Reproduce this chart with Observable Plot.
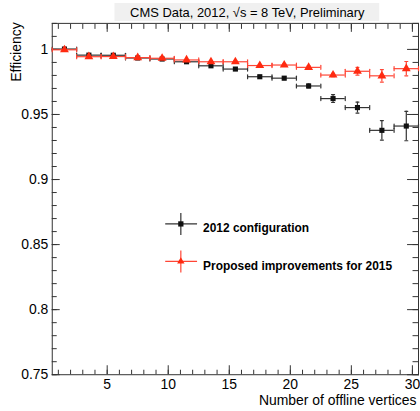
<!DOCTYPE html>
<html><head><meta charset="utf-8">
<script src="https://cdn.jsdelivr.net/npm/d3@7"></script>
<script src="https://cdn.jsdelivr.net/npm/@observablehq/plot@0.6"></script>
<style>body{margin:0;overflow:hidden;background:#fff}</style>
</head><body><div id="chart"></div>
<script>
// ---- data ----
const binCenters = [1.5, 3.5, 5.5, 7.5, 9.5, 11.5, 13.5, 15.5, 17.5, 19.5, 21.5, 23.5, 25.5, 27.5, 29.5];
const binHalfWidth = 1;
const eff2012 = [1.0003, 0.9956, 0.9955, 0.9934, 0.9926, 0.9905, 0.9874, 0.9849, 0.9790, 0.9779, 0.9719, 0.9622, 0.9553, 0.9378, 0.9411];
const err2012 = [0.0005, 0.0005, 0.0005, 0.0005, 0.0006, 0.0007, 0.0008, 0.0009, 0.0010, 0.0012, 0.0015, 0.0030, 0.0042, 0.0075, 0.0113];
const eff2015 = [0.9997, 0.9944, 0.9945, 0.9937, 0.9932, 0.9919, 0.9905, 0.9905, 0.9876, 0.9880, 0.9862, 0.9803, 0.9832, 0.9797, 0.9852];
const err2015 = [0.0004, 0.0004, 0.0004, 0.0004, 0.0005, 0.0005, 0.0006, 0.0007, 0.0008, 0.0009, 0.0011, 0.0013, 0.0030, 0.0048, 0.0055];
const seriesNames = ["2012 configuration", "Proposed improvements for 2015"];
const xMajorTicks = [5, 10, 15, 20, 25, 30];
const xMinorTicks = d3.range(1, 31);
const yMajorTicks = [0.75, 0.8, 0.85, 0.9, 0.95, 1];
const yMinorTicks = d3.range(75, 103).map(v => v / 100);
const titleText = "CMS Data, 2012, √s = 8 TeV, Preliminary";
const xTitle = "Number of offline vertices";
const yTitle = "Efficiency";

const blackColor = "#111";
const blackLine = "#333";
const redColor = "#ff2a10";
const redLine = "#ff4535";

const rows2012 = binCenters.map((x, i) => ({x, y: eff2012[i], e: err2012[i]}));
const rows2015 = binCenters.map((x, i) => ({x, y: eff2015[i], e: err2015[i]}));

const capV = {draw(ctx, l) { ctx.moveTo(0, -l / 2); ctx.lineTo(0, l / 2); }};

function errorMarks(rows, line, fill, symbol, r) {
  return [
    Plot.ruleY(rows, {y: "y", x1: d => d.x - binHalfWidth, x2: d => d.x + binHalfWidth, stroke: line, strokeWidth: 1.2}),
    Plot.ruleX(rows, {x: "x", y1: d => d.y - d.e, y2: d => d.y + d.e, stroke: line, strokeWidth: 1.2}),
    Plot.vector(rows, {x: d => d.x - binHalfWidth, y: "y", length: 4, shape: capV, anchor: "start", stroke: line, strokeWidth: 1.2}),
    Plot.vector(rows, {x: d => d.x + binHalfWidth, y: "y", length: 4, shape: capV, anchor: "start", stroke: line, strokeWidth: 1.2}),
    Plot.vector(rows, {x: "x", y: d => d.y - d.e, length: 3, rotate: 90, shape: capV, anchor: "start", stroke: line, strokeWidth: 1.2}),
    Plot.vector(rows, {x: "x", y: d => d.y + d.e, length: 3, rotate: 90, shape: capV, anchor: "start", stroke: line, strokeWidth: 1.2}),
    Plot.dot(rows, {x: "x", y: "y", symbol, r, fill, stroke: "none"})
  ];
}

const blank = () => "";
const axisStroke = "#333";

const plot = Plot.plot({
  width: 422, height: 411,
  marginLeft: 52, marginRight: 2, marginTop: 23, marginBottom: 35,
  x: {domain: [0.5, 30.5]},
  y: {domain: [0.75, 1.02]},
  style: {fontFamily: "'Liberation Sans', Arial, Helvetica, sans-serif", fontSize: "14px", color: "#000", background: "#fff", overflow: "hidden"},
  marks: [
    // inward tick marks (ROOT style)
    Plot.axisX(xMinorTicks, {anchor: "bottom", tickSize: 4.5, dy: -4.5, tickFormat: blank, label: null, stroke: axisStroke}),
    Plot.axisX(xMajorTicks, {anchor: "bottom", tickSize: 9, dy: -9, tickFormat: blank, label: null, stroke: axisStroke}),
    Plot.axisX(xMinorTicks, {anchor: "top", tickSize: 5, dy: 5, tickFormat: blank, label: null, stroke: axisStroke}),
    Plot.axisX(xMajorTicks, {anchor: "top", tickSize: 8, dy: 8, tickFormat: blank, label: null, stroke: axisStroke}),
    Plot.axisY(yMinorTicks, {anchor: "left", tickSize: 5, dx: 5, tickFormat: blank, label: null, stroke: axisStroke}),
    Plot.axisY(yMajorTicks, {anchor: "left", tickSize: 8, dx: 8, tickFormat: blank, label: null, stroke: axisStroke}),
    Plot.axisY(yMinorTicks, {anchor: "right", tickSize: 6.5, dx: -6.5, tickFormat: blank, label: null, stroke: axisStroke}),
    Plot.axisY(yMajorTicks, {anchor: "right", tickSize: 12, dx: -12, tickFormat: blank, label: null, stroke: axisStroke}),
    // tick labels
    Plot.axisX(xMajorTicks, {anchor: "bottom", tickSize: 0, tickPadding: 4, label: null, tickFormat: d => String(d), fontSize: 14}),
    Plot.axisY(yMajorTicks, {anchor: "left", tickSize: 0, tickPadding: 4, label: null, tickFormat: d => String(+d.toFixed(2)), fontSize: 14}),
    Plot.frame({stroke: axisStroke}),
    // data
    ...errorMarks(rows2012, blackLine, blackColor, "square", 2.9),
    ...errorMarks(rows2015, redLine, redColor, "triangle", 3.3),
    // axis titles
    Plot.text([xTitle], {text: d => d, frameAnchor: "bottom-right", textAnchor: "end", lineAnchor: "middle", dx: -2, dy: 25.5, fontSize: 14}),
    Plot.text([yTitle], {text: d => d, frameAnchor: "top-left", rotate: -90, textAnchor: "end", lineAnchor: "middle", dx: -36, dy: -1, fontSize: 14}),
    Plot.text([titleText], {text: d => d, frameAnchor: "top", lineAnchor: "middle", dx: 12, dy: -11, fontSize: 13})
  ]
});

document.getElementById("chart").append(plot);

// title box behind the title text
const svg = d3.select(plot);
svg.insert("rect", ":first-child")
  .attr("x", 115).attr("y", 3).attr("width", 266).attr("height", 18)
  .attr("fill", "#f0f0f0");

// legend
const leg = svg.append("g").attr("font-family", "'Liberation Sans', Arial, Helvetica, sans-serif").attr("text-anchor", "start");
const legendItems = [
  {name: seriesNames[0], cy: 225, line: blackLine, fill: blackColor, shape: "square"},
  {name: seriesNames[1], cy: 262.7, line: redLine, fill: redColor, shape: "triangle"}
];
legendItems.forEach(it => {
  const cx = 181.7;
  leg.append("line").attr("x1", 166).attr("x2", 198).attr("y1", it.cy).attr("y2", it.cy).attr("stroke", it.line).attr("stroke-width", 1.2);
  leg.append("line").attr("x1", cx).attr("x2", cx).attr("y1", it.cy - 11).attr("y2", it.cy + 11).attr("stroke", it.line).attr("stroke-width", 1.2);
  const sym = it.shape === "square" ? d3.symbolSquare : d3.symbolTriangle;
  const size = it.shape === "square" ? 28 : 24;
  leg.append("path").attr("d", d3.symbol(sym, size)()).attr("transform", `translate(${cx},${it.cy})`).attr("fill", it.fill);
  leg.append("text").attr("x", 204).attr("y", it.cy + 8.3).attr("font-size", 12).attr("font-weight", "bold").attr("text-anchor", "start").attr("fill", "#000").text(it.name);
});
</script>
</body></html>
